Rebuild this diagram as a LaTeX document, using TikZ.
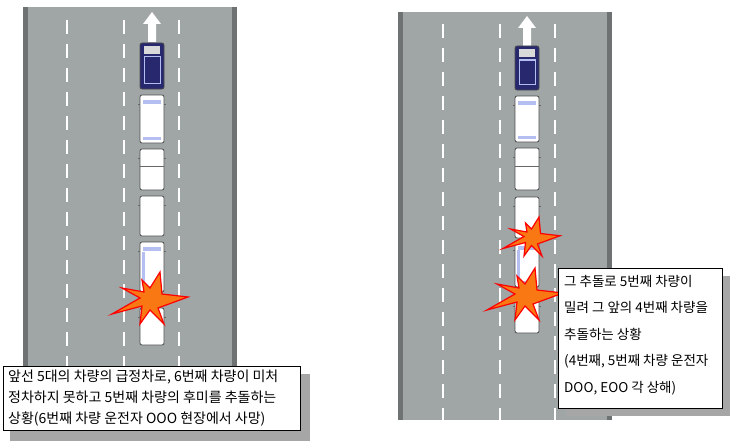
\documentclass[tikz,border=0pt]{standalone}
\usepackage{fontspec}
\newfontfamily\kr{Noto Sans CJK KR}
\usetikzlibrary{calc}
\definecolor{road}{RGB}{160,166,166}
\definecolor{roadedge}{RGB}{110,114,114}
\definecolor{navy}{RGB}{40,40,110}
\definecolor{lblue}{RGB}{180,190,240}
\definecolor{boom}{RGB}{250,120,20}
\tikzset{
  lane/.style={white, line width=2.2pt, dash pattern=on 14pt off 10pt},
  carbody/.style={draw=black!70, line width=0.8pt, rounded corners=2pt},
  txtbox/.style={draw=black, fill=white, line width=0.6pt},
  shadow/.style={fill=black!35, draw=none},
  burst/.style={fill=boom, draw=red, line width=1.2pt, line join=miter},
}
\newcommand\mycar[5]{% cx, top, bottom, body fill, window fill
  \draw[carbody, fill=#4] (#1-12,#2) rectangle (#1+12,#3);
  \fill[#5] (#1-9,#2+5) rectangle (#1+9,#2+9);
  \fill[#5] (#1-9,#3-6) rectangle (#1+9,#3-3);
  \draw[black!60] (#1-14,#2+9) -- (#1-12,#2+9) (#1+12,#2+9) -- (#1+14,#2+9);
}
\newcommand\myburst[2]{%
  \draw[burst] (#1,#2) ++(36,-3) -- ++(-26,-3) -- ++(-2,-22) -- ++(-10,16) -- ++(-8,-8)
   -- ++(2,12) -- ++(-22,-4) -- ++(18,10) -- ++(-28,16) -- ++(30,-8) -- ++(-2,18)
   -- ++(10,-14) -- ++(14,14) -- ++(-6,-16) -- cycle;
}
\begin{document}
\begin{tikzpicture}[x=1pt,y=-1pt]
\useasboundingbox (0,0) rectangle (730,444);
% ---------- left road
\fill[road] (23,7) rectangle (237,372);
\fill[roadedge] (23,7) rectangle (28,372);
\fill[roadedge] (232,7) rectangle (237,372);
\foreach \x in {67,124,179} \draw[lane] (\x,20) -- (\x,372);
\fill[white] (148,42) -- (148,24) -- (143,24) -- (152,12) -- (161,24) -- (156,24) -- (156,42) -- cycle;
% cars
\draw[carbody, fill=navy] (140,43) rectangle (164,89);
\fill[black!15] (144,46) rectangle (160,54);
\draw[lblue, line width=1pt] (144,57) rectangle (160,83);
\mycar{152}{95}{143}{white}{lblue}
\mycar{152}{149}{190}{white}{white}
\draw[black!60] (140,166) -- (164,166);
\mycar{152}{196}{236}{white}{white}
\mycar{152}{242}{292}{white}{lblue}
\fill[lblue] (142,252) rectangle (145,285);
\mycar{152}{308}{345}{white}{white}
\myburst{152}{300}
% ---------- right road
\fill[road] (398,12) rectangle (612,420);
\fill[roadedge] (398,12) rectangle (403,420);
\fill[roadedge] (607,12) rectangle (612,420);
\foreach \x in {443,500,555} \draw[lane] (\x,24) -- (\x,420);
\fill[white] (523,46) -- (523,28) -- (518,28) -- (527,16) -- (536,28) -- (531,28) -- (531,46) -- cycle;
\draw[carbody, fill=navy] (515,46) rectangle (539,90);
\fill[black!15] (519,49) rectangle (535,57);
\draw[lblue, line width=1pt] (519,60) rectangle (535,84);
\mycar{527}{96}{142}{white}{lblue}
\mycar{527}{148}{190}{white}{white}
\draw[black!60] (515,166) -- (539,166);
\mycar{527}{197}{238}{white}{white}
\mycar{527}{241}{287}{white}{lblue}
\fill[lblue] (517,250) rectangle (520,282);
\mycar{527}{297}{333}{white}{white}
\begin{scope}[shift={(533,238)}, scale=0.75]\myburst{0}{0}\end{scope}
\myburst{527}{296}
% ---------- text boxes
\fill[shadow] (10,374) rectangle (310,441);
\node[txtbox, anchor=north west, minimum width=297pt, minimum height=64pt] (lb) at (3,366) {};
\node[anchor=north west, align=left, font=\kr\fontsize{14}{21}\selectfont, inner sep=0pt] (lt) at (8,370)
{앞선 5대의 차량의 급정차로, 6번째 차량이 미처\\정차하지 못하고 5번째 차량의 후미를 추돌하는\\상황(6번째 차량 운전자 OOO 현장에서 사망)};
\fill[shadow] (566,276) rectangle (730,416);
\node[txtbox, anchor=north west, minimum width=164pt, minimum height=140pt] (rb) at (558,268) {};
\node[anchor=north west, align=left, font=\kr\fontsize{13.5}{26.5}\selectfont, inner sep=0pt] (rt) at (564,275)
{그 추돌로 5번째 차량이\\밀려 그 앞의 4번째 차량을\\추돌하는 상황\\(4번째, 5번째 차량 운전자\\DOO, EOO 각 상해)};
\end{tikzpicture}
\end{document}
